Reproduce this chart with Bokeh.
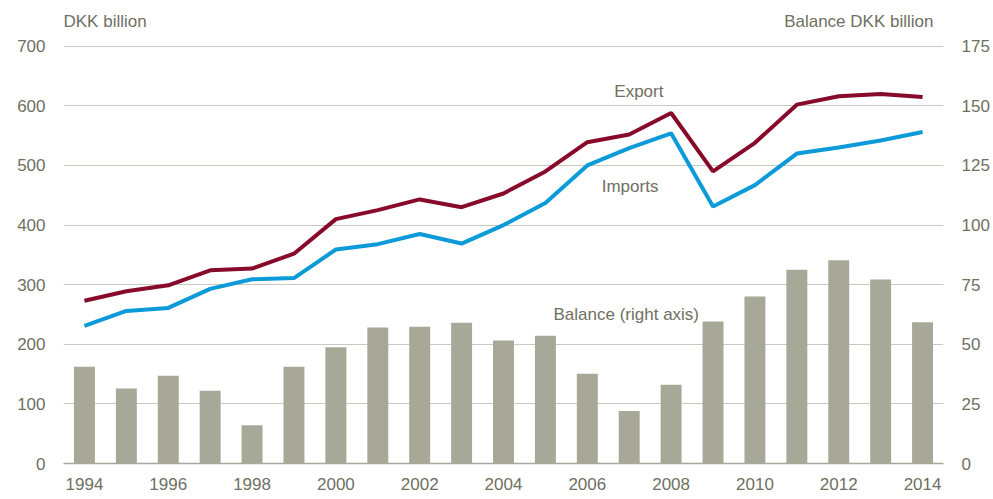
from bokeh.plotting import figure
from bokeh.models import Range1d, LinearAxis, Label, FixedTicker, ColumnDataSource
from bokeh.embed import file_html
from bokeh.resources import INLINE

years = list(range(1994, 2015))
export = [273, 289, 299, 324, 327, 352, 410, 425, 443, 430, 453, 490, 539, 552, 588,
          490, 538, 602, 616, 620, 615]
imports = [231, 256, 261, 293, 309, 311, 359, 368, 385, 369, 400, 437, 500, 529, 554,
           431, 467, 520, 530, 542, 556]
balance = [40.6, 31.5, 36.8, 30.5, 16.0, 40.6, 48.8, 57.0, 57.4, 59.0, 51.6, 53.6, 37.6,
           22.0, 33.0, 59.6, 70.0, 81.3, 85.2, 77.2, 59.2]
x_ticks = list(range(1994, 2015, 2))
left_ticks = [0, 100, 200, 300, 400, 500, 600, 700]
right_ticks = [0, 25, 50, 75, 100, 125, 150, 175]

FONT = "Liberation Sans"
TXT = "#6f6f62"
FS = "17px"

src = ColumnDataSource(dict(year=years, export=export, imports=imports, balance=balance))

p = figure(width=992, height=497, x_range=Range1d(1993.5, 2014.5), y_range=Range1d(0, 765),
           output_backend="svg", toolbar_location=None,
           min_border_left=63, min_border_right=48, min_border_top=7, min_border_bottom=34)
p.outline_line_color = None
p.extra_y_ranges = {"bal": Range1d(0, 765 / 4)}

p.vbar(x="year", top="balance", width=0.5, source=src, y_range_name="bal",
       fill_color="#a8a898", line_color=None)
p.line(x="year", y="export", source=src, line_color="#870a2b", line_width=4)
p.line(x="year", y="imports", source=src, line_color="#0c9ad8", line_width=4)

def style(ax, standoff):
    ax.major_tick_line_color = None
    ax.minor_tick_line_color = None
    ax.major_tick_out = 0
    ax.major_tick_in = 0
    ax.minor_tick_out = 0
    ax.minor_tick_in = 0
    ax.major_label_standoff = standoff
    ax.major_label_text_font = FONT
    ax.major_label_text_font_size = FS
    ax.major_label_text_color = TXT

# left axis
ya = p.yaxis[0]
ya.ticker = FixedTicker(ticks=left_ticks)
ya.axis_line_color = None
style(ya, 18)

# right axis
ra = LinearAxis(y_range_name="bal", ticker=FixedTicker(ticks=right_ticks))
ra.axis_line_color = None
style(ra, 18)
p.add_layout(ra, "right")

# x axis
xa = p.xaxis[0]
xa.ticker = FixedTicker(ticks=x_ticks)
xa.axis_line_color = "#a9a99b"
xa.axis_line_width = 1.5
style(xa, 14)

p.xgrid.grid_line_color = None
p.ygrid.grid_line_color = "#cbc9bd"
p.ygrid.grid_line_width = 1

def lab(x, y, t, align="center"):
    p.add_layout(Label(x=x, y=y, text=t, text_font=FONT, text_font_size=FS,
                       text_color=TXT, text_align=align, text_baseline="middle"))

lab(1993.5, 742, "DKK billion", "left")
lab(2014.26, 742, "Balance DKK billion", "right")
lab(2007.23, 624, "Export")
lab(2007.02, 465, "Imports")
lab(2006.93, 250, "Balance (right axis)")

open("out.html", "w").write(file_html(p, INLINE))
